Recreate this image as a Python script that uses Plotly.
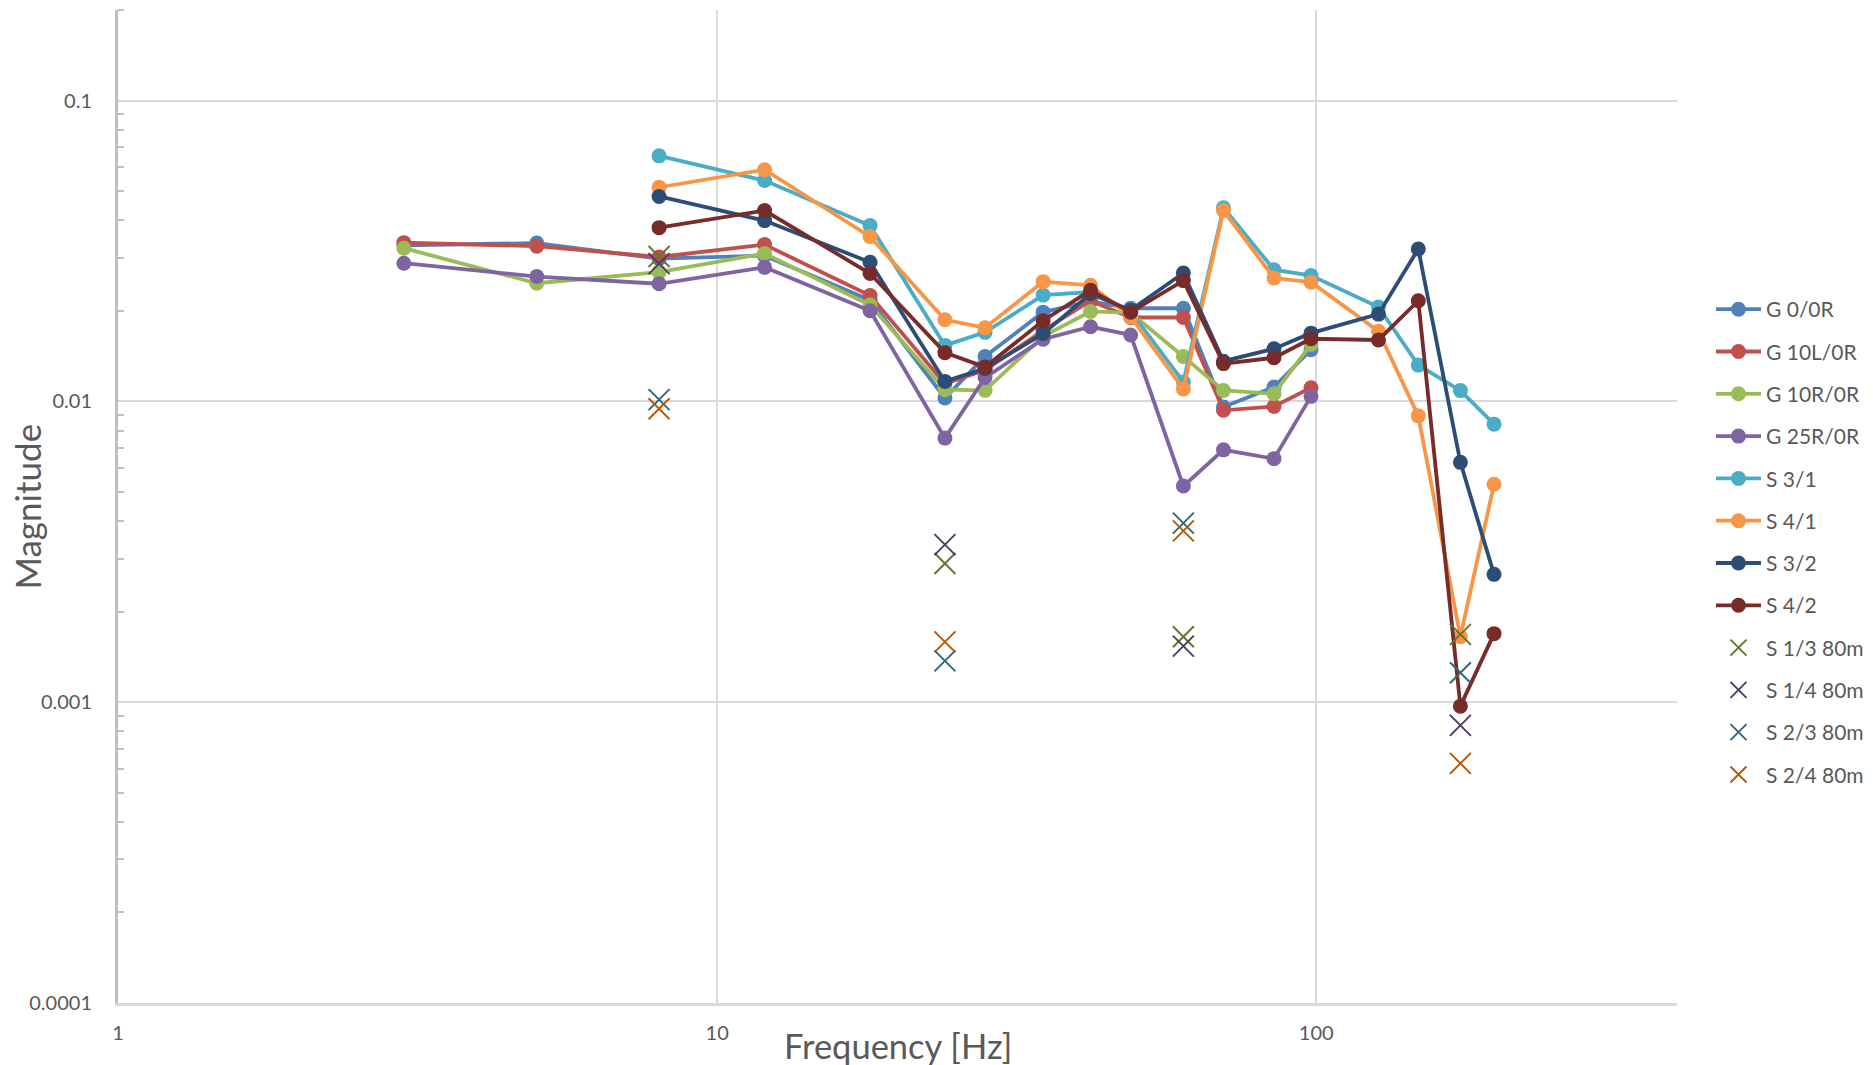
import plotly.graph_objects as go

# Frequencies [Hz]
freq_g = [3, 5, 8, 12, 18, 24, 28, 35, 42, 49, 60, 70, 85, 98]
freq_s = [8, 12, 18, 24, 28, 35, 42, 49, 60, 70, 85, 98, 127, 148, 174, 198]
freq_x = [8, 24, 60, 174]

# Magnitudes, ground series
g_0_0r = [0.0330, 0.0336, 0.0298, 0.0305, 0.0217, 0.01026, 0.0141, 0.0198, 0.0215, 0.0204, 0.0204, 0.00957, 0.01116, 0.01485]
g_10l_0r = [0.0337, 0.0328, 0.0302, 0.0332, 0.0225, 0.01145, 0.0127, 0.0172, 0.0216, 0.0190, 0.0190, 0.00934, 0.00962, 0.0111]
g_10r_0r = [0.0323, 0.0247, 0.0269, 0.0310, 0.0209, 0.01094, 0.01088, 0.01644, 0.0199, 0.0197, 0.0141, 0.01087, 0.0106, 0.01547]
g_25r_0r = [0.0288, 0.0260, 0.0246, 0.0279, 0.0200, 0.00755, 0.0120, 0.0161, 0.0177, 0.01662, 0.00523, 0.0069, 0.00645, 0.01039]

# Magnitudes, structure series
s_3_1 = [0.0655, 0.0542, 0.0384, 0.01535, 0.01696, 0.02256, 0.0231, 0.0199, 0.0116, 0.0440, 0.0274, 0.0262, 0.0206, 0.0132, 0.01086, 0.0084]
s_4_1 = [0.0515, 0.0589, 0.0353, 0.01867, 0.01757, 0.0250, 0.0243, 0.0191, 0.0110, 0.0431, 0.0257, 0.0249, 0.0171, 0.00895, 0.00165, 0.0053]
s_3_2 = [0.0480, 0.0399, 0.0290, 0.01165, 0.01285, 0.0168, 0.0228, 0.0201, 0.0267, 0.0136, 0.01496, 0.01686, 0.0195, 0.0321, 0.00627, 0.00266]
s_4_2 = [0.0378, 0.0431, 0.0266, 0.01452, 0.0130, 0.01854, 0.0234, 0.0198, 0.0252, 0.01335, 0.01396, 0.01615, 0.0160, 0.0216, 0.00097, 0.00169]

# Magnitudes, 80 m measurements
s_1_3_80 = [0.0303, 0.00289, 0.00165, 0.00168]
s_1_4_80 = [0.0287, 0.00334, 0.001535, 0.000837]
s_2_3_80 = [0.01013, 0.001372, 0.00394, 0.001253]
s_2_4_80 = [0.00945, 0.001586, 0.00371, 0.000626]

line_series = [
    ("G 0/0R", freq_g, g_0_0r, "#4F81BD"),
    ("G 10L/0R", freq_g, g_10l_0r, "#C0504D"),
    ("G 10R/0R", freq_g, g_10r_0r, "#9BBB59"),
    ("G 25R/0R", freq_g, g_25r_0r, "#8064A2"),
    ("S 3/1", freq_s, s_3_1, "#4BACC6"),
    ("S 4/1", freq_s, s_4_1, "#F79646"),
    ("S 3/2", freq_s, s_3_2, "#2C4D75"),
    ("S 4/2", freq_s, s_4_2, "#772C2A"),
]
cross_series = [
    ("S 1/3 80m", freq_x, s_1_3_80, "#5F7530"),
    ("S 1/4 80m", freq_x, s_1_4_80, "#4D3B62"),
    ("S 2/3 80m", freq_x, s_2_3_80, "#276A7C"),
    ("S 2/4 80m", freq_x, s_2_4_80, "#B65708"),
]

FONT = "Lato"
TEXT = "#595959"

fig = go.Figure()
for name, xs, ys, col in line_series:
    fig.add_trace(go.Scatter(
        x=xs, y=ys, name=name, mode="lines+markers", legendgroup=name,
        line=dict(color=col, width=3.8),
        marker=dict(symbol="circle", size=15, color=col),
    ))
for name, xs, ys, col in cross_series:
    fig.add_trace(go.Scatter(
        x=xs, y=ys, name=name, mode="markers", legendgroup=name,
        marker=dict(symbol="x-thin", size=21, color=col, line=dict(color=col, width=1.9)),
    ))

x_range = [0, 2.60206]
y_range = [-4, -0.69897]

x_minor = [m * d for d in (1, 10, 100) for m in range(2, 10) if m * d <= 400]
y_minor = [m * d for d in (1e-4, 1e-3, 1e-2, 1e-1) for m in range(2, 10) if m * d <= 0.2]

fig.update_layout(
    width=1873, height=1065,
    margin=dict(l=118, r=196, t=10, b=62, autoexpand=False),
    paper_bgcolor="white", plot_bgcolor="white",
    font=dict(family=FONT, color=TEXT, size=20),
    showlegend=True,
    legend=dict(
        xref="container", yref="container",
        x=0.9135, xanchor="left", y=0.7286, yanchor="top",
        traceorder="grouped", tracegroupgap=12, itemwidth=45,
        font=dict(family=FONT, size=21, color=TEXT),
        bgcolor="rgba(0,0,0,0)",
    ),
    xaxis=dict(
        type="log", range=x_range,
        tickmode="array", tickvals=[1, 10, 100], ticktext=["1", "10", "100"],
        ticks="", ticklabelstandoff=10,
        showgrid=True, gridcolor="#D9D9D9", gridwidth=1.5,
        showline=True, linecolor="#D9D9D9", linewidth=2.5,
        zeroline=False,
        tickfont=dict(family=FONT, size=20, color=TEXT),
    ),
    xaxis2=dict(
        type="log", range=x_range, overlaying="x", side="top", anchor="y",
        tickmode="array", tickvals=[1, 10, 100], showticklabels=False,
        ticks="outside", ticklen=7, tickwidth=1.5, tickcolor="#BFBFBF",
        minor=dict(tickmode="array", tickvals=x_minor, ticks="inside", ticklen=5,
                   tickwidth=1.5, tickcolor="#BFBFBF", showgrid=False),
        showgrid=False, showline=True, linecolor="#BFBFBF", linewidth=1.5,
        zeroline=False,
    ),
    yaxis=dict(
        type="log", range=y_range,
        tickmode="array", tickvals=[1e-4, 1e-3, 1e-2, 1e-1],
        ticktext=["0.0001", "0.001", "0.01", "0.1"],
        ticks="", ticklabelstandoff=19,
        minor=dict(tickmode="array", tickvals=y_minor, ticks="inside", ticklen=6,
                   tickwidth=1.5, tickcolor="#BFBFBF", showgrid=False),
        showgrid=True, gridcolor="#D9D9D9", gridwidth=1.5,
        showline=True, linecolor="#BFBFBF", linewidth=3,
        zeroline=False,
        tickfont=dict(family=FONT, size=20, color=TEXT),
    ),
    annotations=[
        dict(text="Frequency [Hz]", xref="paper", yref="paper", x=0.5, y=-0.0433,
             xanchor="center", yanchor="middle", showarrow=False,
             font=dict(family=FONT, size=34.5, color=TEXT)),
        dict(text="Magnitude", xref="paper", yref="paper", x=-0.0590, y=0.5,
             xanchor="center", yanchor="middle", textangle=-90, showarrow=False,
             font=dict(family=FONT, size=35, color=TEXT)),
    ],
)

fig.write_html("out.html")
